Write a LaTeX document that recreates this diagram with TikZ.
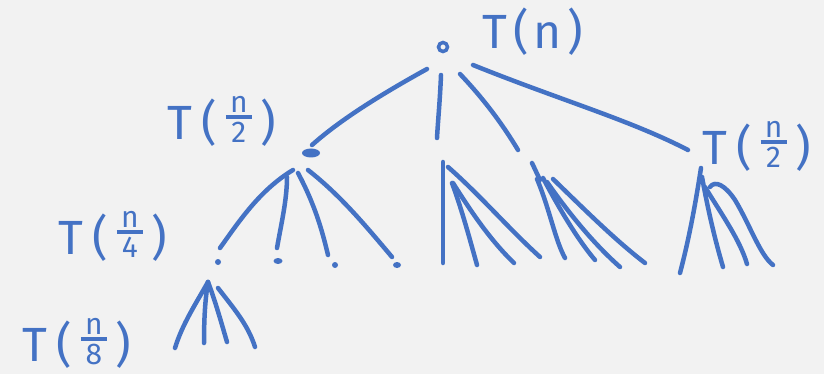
\documentclass[tikz,border=0pt]{standalone}
\usepackage{fontspec}
\setmainfont{Fira Sans}
\definecolor{ink}{HTML}{4472C4}
\definecolor{paper}{HTML}{F2F2F2}
\newcommand{\flbl}[2]{T\kern9pt(\kern9pt\raisebox{-3pt}{\fontsize{30}{30}\selectfont\shortstack{#1\\\rule{26pt}{3.5pt}\\#2}}\kern9pt)}
\begin{document}
\begin{tikzpicture}[x=1pt,y=-1pt,
  stroke/.style={draw=ink,line width=4.5pt,line cap=round,line join=round},
  lab/.style={text=ink,inner sep=0pt,font=\fontsize{48}{48}\selectfont}]
\fill[paper] (0,0) rectangle (824,374);
\useasboundingbox (0,0) rectangle (824,374);

% root
\node[draw=ink,line width=3.5pt,circle,minimum size=9pt,inner sep=0pt] (root) at (443,47) {};
\node[lab] (tn) at (533,32) {T\kern6pt(\kern5pt n\kern6pt)};

% level 1 dot
\fill[ink] (311,153) ellipse (9pt and 4.5pt);
\node[inner sep=0pt] (half) at (311,153) {};
\node[lab] (thalf) at (222,121) {\flbl{n}{2}};
\node[lab,anchor=west] (thalfr) at (702,146) {\flbl{n}{2}};

% root children
\draw[stroke] (427,69) .. controls (380,95) and (340,120) .. (312,145);
\draw[stroke] (441,75) .. controls (440,100) and (438,120) .. (437,138);
\draw[stroke] (460,74) .. controls (480,95) and (500,120) .. (518,150);
\draw[stroke] (473,65) .. controls (560,100) and (630,120) .. (688,150);

% children of n/2
\draw[stroke] (293,170) .. controls (260,190) and (240,220) .. (220,248);
\draw[stroke] (287,177) .. controls (287,200) and (281,225) .. (277,248);
\draw[stroke] (298,173) .. controls (315,205) and (322,230) .. (328,255);
\draw[stroke] (308,170) .. controls (340,195) and (365,225) .. (392,257);
\fill[ink] (218,262) circle (3pt);
\fill[ink] (278,261) ellipse (4.5pt and 3pt);
\fill[ink] (335,265) circle (3pt);
\fill[ink] (397,265) ellipse (4pt and 3pt);
\node[lab] (tq) at (113,236) {\flbl{n}{4}};

% children of n/4
\coordinate (q) at (208,282);
\draw[stroke] (q) .. controls (195,305) and (182,325) .. (175,348);
\draw[stroke] (q) .. controls (205,300) and (204,320) .. (204,343);
\draw[stroke] (q) .. controls (215,300) and (222,325) .. (227,342);
\draw[stroke] (218,288) .. controls (235,310) and (248,325) .. (255,347);
\node[lab] (te) at (77,343) {\flbl{n}{8}};

% group A
\coordinate (a) at (443,162);
\draw[stroke] (a) -- (443,263);
\draw[stroke] (452,183) .. controls (462,210) and (470,240) .. (477,265);
\draw[stroke] (453,183) .. controls (470,210) and (490,240) .. (514,263);
\draw[stroke] (448,167) .. controls (480,195) and (510,230) .. (540,257);

% group B
\draw[stroke] (532,163) -- (540,180);
\draw[stroke] (537,179) .. controls (550,210) and (555,240) .. (565,258);
\draw[stroke] (543,178) .. controls (560,210) and (578,240) .. (595,260);
\draw[stroke] (547,182) .. controls (570,215) and (595,245) .. (620,267);
\draw[stroke] (553,179) .. controls (585,210) and (615,240) .. (645,263);

% group C
\coordinate (c) at (701,168);
\draw[stroke] (680,273) .. controls (690,235) and (696,200) .. (c);
\draw[stroke] (702,177) .. controls (708,210) and (715,240) .. (723,267);
\draw[stroke] (705,187) .. controls (722,215) and (740,240) .. (747,264);
\draw[stroke] (710,187) .. controls (715,180) and (725,185) .. (735,200) .. controls (750,225) and (760,255) .. (773,265);
\end{tikzpicture}
\end{document}
